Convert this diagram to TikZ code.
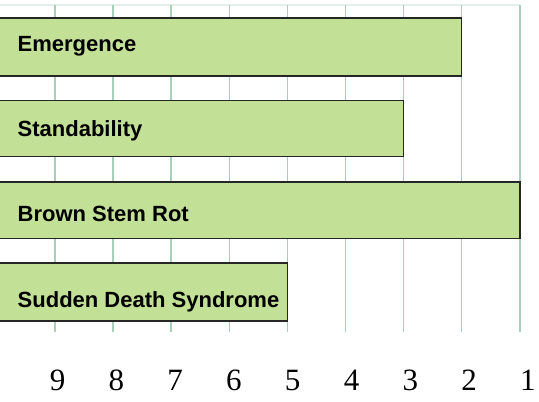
\documentclass[tikz,border=0pt]{standalone}
\usepackage{fontspec}
\setmainfont{Liberation Serif}
\setsansfont{Liberation Sans}
\usepackage{xcolor}
\definecolor{barfill}{RGB}{194,224,150}
\definecolor{gridcol}{RGB}{166,208,186}
\definecolor{topline}{RGB}{230,238,236}

\begin{document}
\begin{tikzpicture}[x=1pt,y=-1pt,
    bar/.style={draw=black!85, line width=1.5pt, fill=barfill},
    barlabel/.style={anchor=base west, inner sep=0pt, font=\sffamily\bfseries\fontsize{22}{26}\selectfont},
    ticklabel/.style={anchor=base, inner sep=0pt, font=\fontsize{31}{36}\selectfont}]
                \useasboundingbox (0,0) rectangle (539,402);
                \draw[topline, line width=1.5pt](0,5) -- (520,5);
                \foreach \v in {1,...,9}{
                    \draw[gridcol, line width=1.5pt]({55+(9-\v)*58.1},5) -- ({55+(9-\v)*58.1},332);
                    \node[ticklabel] (t\v) at ({57.5+(9-\v)*58.8},390) {\v};
                }
                \draw[bar](-10,18) rectangle (461.7,76);
                \draw[bar](-10,100.5) rectangle (403.6,156.5);
                \draw[bar](-10,182) rectangle (519.8,238.5);
                \draw[bar](-10,263) rectangle (287.4,321);
                \node[barlabel] (emergence) at (17.5,51) {Emergence};
                \node[barlabel] (standability) at (17.5,136.7) {Standability};
                \node[barlabel] (bsr) at (17.5,221.7) {Brown Stem Rot};
                \node[barlabel] (sds) at (17.5,307) {Sudden Death Syndrome};
            \end{tikzpicture}
\end{document}
